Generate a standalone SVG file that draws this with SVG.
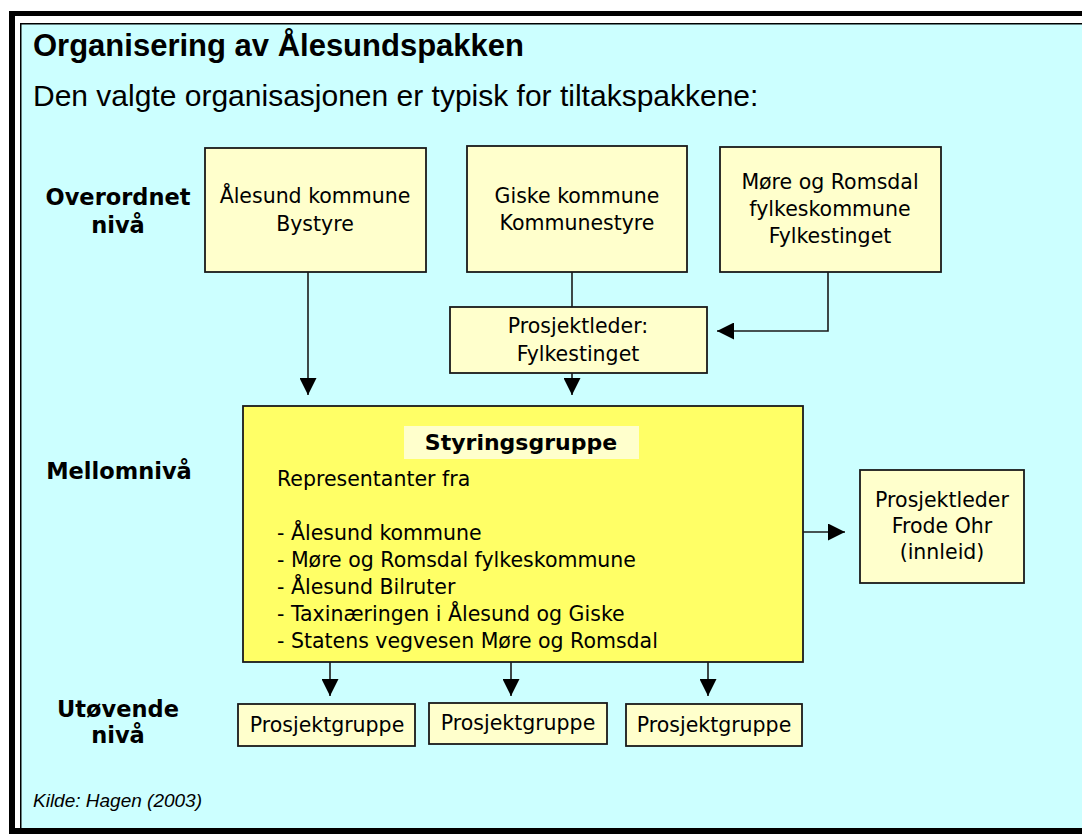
<svg xmlns="http://www.w3.org/2000/svg" width="1082" height="834" viewBox="0 0 1082 834">
<style>
.box{fill:#FFFFCC;stroke:#1a1a1a;stroke-width:1.8}
.main{fill:#FFFF66;stroke:#1a1a1a;stroke-width:1.8}
.t{font-family:"DejaVu Sans",Verdana,sans-serif;font-size:20.5px;fill:#000}
.c{text-anchor:middle}
.lbl{font-family:"DejaVu Sans",Verdana,sans-serif;font-size:22.5px;font-weight:bold;fill:#000;text-anchor:middle}
.ln{stroke:#1a1a1a;stroke-width:1.6;fill:none}
</style>
<defs>
<marker id="ah" markerUnits="userSpaceOnUse" markerWidth="17" markerHeight="17" refX="17" refY="8.5" orient="auto">
<path d="M0,0 L17,8.5 L0,17 z" fill="#000"/>
</marker>
</defs>
<rect x="9" y="11" width="1073" height="823" fill="#000"/>
<rect x="15" y="16" width="1067" height="812" fill="#fff"/>
<rect x="21" y="24" width="1061" height="804" fill="#CCFFFF"/>
<path d="M20.75 828 V23.75 H1082" stroke="#000" stroke-width="1.5" fill="none"/>

<text x="33" y="56" font-family="Liberation Sans,Arial,sans-serif" font-size="31" font-weight="bold">Organisering av Ålesundspakken</text>
<text x="33" y="106" font-family="Liberation Sans,Arial,sans-serif" font-size="30">Den valgte organisasjonen er typisk for tiltakspakkene:</text>

<g id="levels">
<text class="lbl" x="118" y="205">Overordnet</text>
<text class="lbl" x="118" y="233">nivå</text>
<text class="lbl" x="119" y="479">Mellomnivå</text>
<text class="lbl" x="118" y="717">Utøvende</text>
<text class="lbl" x="118" y="743">nivå</text>
</g>

<g id="connectors">
<path class="ln" d="M308 272 V395" marker-end="url(#ah)"/>
<path class="ln" d="M572 272 V307"/>
<path class="ln" d="M828 272 V331 H717" marker-end="url(#ah)"/>
<path class="ln" d="M572 373 V395" marker-end="url(#ah)"/>
<path class="ln" d="M803 532 H845" marker-end="url(#ah)"/>
<path class="ln" d="M330 662 V696" marker-end="url(#ah)"/>
<path class="ln" d="M511 662 V696" marker-end="url(#ah)"/>
<path class="ln" d="M708 662 V696" marker-end="url(#ah)"/>
</g>

<g id="alesund">
<rect class="box" x="205" y="148" width="221" height="124"/>
<text class="t c" x="315" y="203">Ålesund kommune</text>
<text class="t c" x="315" y="231">Bystyre</text>
</g>
<g id="giske">
<rect class="box" x="467" y="146" width="220" height="126"/>
<text class="t c" x="577" y="203">Giske kommune</text>
<text class="t c" x="577" y="230">Kommunestyre</text>
</g>
<g id="more">
<rect class="box" x="720" y="147" width="221" height="125"/>
<text class="t c" x="830" y="189">Møre og Romsdal</text>
<text class="t c" x="830" y="216">fylkeskommune</text>
<text class="t c" x="830" y="243">Fylkestinget</text>
</g>
<g id="prosjektleder1">
<rect class="box" x="450" y="307" width="257" height="66"/>
<text class="t c" x="578" y="333">Prosjektleder:</text>
<text class="t c" x="578" y="361">Fylkestinget</text>
</g>
<g id="styringsgruppe">
<rect class="main" x="243" y="406" width="560" height="256"/>
<rect x="404" y="426" width="235" height="33" fill="#FFFFCC"/>
<text x="521" y="450" font-family="DejaVu Sans,Verdana,sans-serif" font-size="22" font-weight="bold" text-anchor="middle">Styringsgruppe</text>
<text class="t" x="277" y="486">Representanter fra</text>
<text class="t" x="277" y="540">- Ålesund kommune</text>
<text class="t" x="277" y="567">- Møre og Romsdal fylkeskommune</text>
<text class="t" x="277" y="594">- Ålesund Bilruter</text>
<text class="t" x="277" y="621">- Taxinæringen i Ålesund og Giske</text>
<text class="t" x="277" y="648">- Statens vegvesen Møre og Romsdal</text>
</g>
<g id="prosjektleder2">
<rect class="box" x="860" y="470" width="164" height="113"/>
<text class="t c" x="942" y="507">Prosjektleder</text>
<text class="t c" x="942" y="533">Frode Ohr</text>
<text class="t c" x="942" y="559">(innleid)</text>
</g>
<g id="pg1">
<rect class="box" x="238" y="704" width="177" height="42"/>
<text class="t c" x="327" y="732">Prosjektgruppe</text>
</g>
<g id="pg2">
<rect class="box" x="429" y="703" width="178" height="41"/>
<text class="t c" x="518" y="730">Prosjektgruppe</text>
</g>
<g id="pg3">
<rect class="box" x="626" y="704" width="176" height="42"/>
<text class="t c" x="714" y="732">Prosjektgruppe</text>
</g>
<text x="33" y="807" font-family="Liberation Sans,Arial,sans-serif" font-size="19" font-style="italic">Kilde: Hagen (2003)</text>
</svg>
